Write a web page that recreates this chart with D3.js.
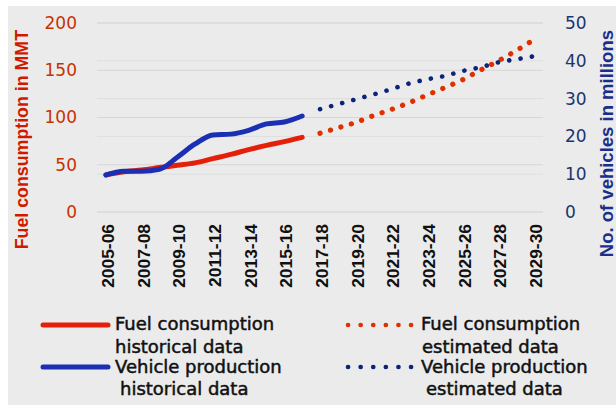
<!DOCTYPE html>
<html><head><meta charset="utf-8">
<script src="https://cdn.jsdelivr.net/npm/d3@7"></script>
<style>body{margin:0;background:#fff}svg{display:block}</style>
</head><body>
<svg id="c" width="616" height="405"></svg>
<script>
const categories = ["2005-06","2006-07","2007-08","2008-09","2009-10","2010-11","2011-12","2012-13","2013-14","2014-15","2015-16","2016-17","2017-18","2018-19","2019-20","2020-21","2021-22","2022-23","2023-24","2024-25","2025-26","2026-27","2027-28","2028-29","2029-30"];
const fuelHistorical = [39.2,42.5,44.5,47,49.5,52,56.5,61,66,70.5,74.5,79];
const fuelEstimated = [83.3,89,94.8,102,108.5,115.7,123.8,131.7,140,150.2,160,170.8,182.5];
const vehHistorical = [9.8,10.8,10.8,11.3,14.5,18,20.4,20.6,21.6,23.3,23.8,25.4];
const vehEstimated = [27.2,28.5,29.8,31.1,32.5,34.0,35.1,36.0,37.3,38.3,39.6,40.4,41.2];
const leftTicks = [0,50,100,150,200];
const rightTicks = [0,10,20,30,40,50];
const xTickLabels = categories.filter((d,i)=>i%2===0);

const svg = d3.select("#c");
svg.append("rect").attr("x",8).attr("y",6).attr("width",608).attr("height",399).attr("fill","#ebebeb");

const x = d3.scaleBand().domain(categories).range([97,543]);
const yL = d3.scaleLinear().domain([0,200]).range([212,23]);
const yR = d3.scaleLinear().domain([0,50]).range([212,23]);
const cx = d => x(d) + x.bandwidth()/2;

// gridlines
svg.append("g").selectAll("line").data(rightTicks).join("line")
  .attr("x1",97).attr("x2",543).attr("y1",d=>yR(d)).attr("y2",d=>yR(d))
  .attr("stroke","#dedede").attr("stroke-width",1);
svg.append("g").selectAll("line").data(leftTicks).join("line")
  .attr("x1",97).attr("x2",543).attr("y1",d=>yL(d)).attr("y2",d=>yL(d))
  .attr("stroke","#d6d6d6").attr("stroke-width",1);

// axes
const gL = svg.append("g").attr("transform","translate(80,0)")
  .call(d3.axisLeft(yL).tickValues(leftTicks).tickSize(0).tickPadding(3));
gL.select(".domain").remove();
gL.selectAll("text").attr("font-family","DejaVu Sans").attr("font-size",17).attr("fill","#c83200");

const gR = svg.append("g").attr("transform","translate(562,0)")
  .call(d3.axisRight(yR).tickValues(rightTicks).tickSize(0).tickPadding(3));
gR.select(".domain").remove();
gR.selectAll("text").attr("font-family","DejaVu Sans").attr("font-size",17).attr("fill","#1c3471");

const gX = svg.append("g").attr("transform","translate(0,212)")
  .call(d3.axisBottom(x).tickValues(xTickLabels).tickSize(0).tickPadding(0));
gX.select(".domain").remove();
gX.selectAll("text")
  .attr("font-family","Liberation Sans").attr("font-weight","bold").attr("font-size",17.4).attr("fill","#111")
  .attr("transform","rotate(-90)").attr("text-anchor","end")
  .attr("x",-12).attr("y",2).attr("dy","0.35em");

// titles
svg.append("text").attr("transform","translate(28,30) rotate(-90)").attr("text-anchor","end")
  .attr("font-family","Liberation Sans").attr("font-weight","bold").attr("font-size",17.8)
  .attr("fill","#d01a00").text("Fuel consumption in MMT");
svg.append("text").attr("transform","translate(613,30) rotate(-90)").attr("text-anchor","end")
  .attr("font-family","Liberation Sans").attr("font-weight","bold").attr("font-size",18.5)
  .attr("fill","#1a2f8a").text("No. of vehicles in millions");

// lines
const histCats = categories.slice(0,12), estCats = categories.slice(12);
const lineL = d3.line().x(d=>cx(d[0])).y(d=>yL(d[1])).curve(d3.curveMonotoneX);
const lineR = d3.line().x(d=>cx(d[0])).y(d=>yR(d[1])).curve(d3.curveMonotoneX);

svg.append("path").datum(d3.zip(histCats,fuelHistorical)).attr("d",lineL)
  .attr("fill","none").attr("stroke","#e4200a").attr("stroke-width",5).attr("stroke-linecap","round");
svg.append("path").datum(d3.zip(histCats,vehHistorical)).attr("d",lineR)
  .attr("fill","none").attr("stroke","#1b2fb5").attr("stroke-width",5).attr("stroke-linecap","round");
svg.append("path").datum(d3.zip(estCats,fuelEstimated)).attr("d",lineL)
  .attr("fill","none").attr("stroke","#e03000").attr("stroke-width",5.2).attr("stroke-linecap","round")
  .attr("stroke-dasharray","0.1,10.8");
svg.append("path").datum(d3.zip(estCats,vehEstimated)).attr("d",lineR)
  .attr("fill","none").attr("stroke","#0c2478").attr("stroke-width",4.6).attr("stroke-linecap","round")
  .attr("stroke-dasharray","0.1,11.4");

// legend
const legend = [
  {x1:43,x2:108,y:325,color:"#e4200a",dash:null,lines:[["Fuel consumption",330,115],["historical data",353,115]]},
  {x1:43,x2:108,y:367,color:"#1b2fb5",dash:null,lines:[["Vehicle production",372.5,115],["historical data",395,120]]},
  {x1:348,x2:412,y:325,color:"#e03000",dash:"0.1,12.5",lines:[["Fuel consumption",330,421],["estimated data",353,422]]},
  {x1:348,x2:412,y:367,color:"#0c2478",dash:"0.1,12.5",lines:[["Vehicle production",372.5,421],["estimated data",395,426]]}
];
const lg = svg.append("g").selectAll("g").data(legend).join("g");
lg.append("line").attr("x1",d=>d.x1).attr("x2",d=>d.x2).attr("y1",d=>d.y).attr("y2",d=>d.y)
  .attr("stroke",d=>d.color).attr("stroke-width",d=>d.dash?4.6:5).attr("stroke-linecap","round")
  .attr("stroke-dasharray",d=>d.dash);
lg.selectAll("text").data(d=>d.lines).join("text")
  .attr("x",d=>d[2]).attr("y",d=>d[1]).text(d=>d[0])
  .attr("font-family","DejaVu Sans").attr("font-size",18).attr("fill","#111")
  .attr("stroke","#111").attr("stroke-width",0.5);
</script>
</body></html>
